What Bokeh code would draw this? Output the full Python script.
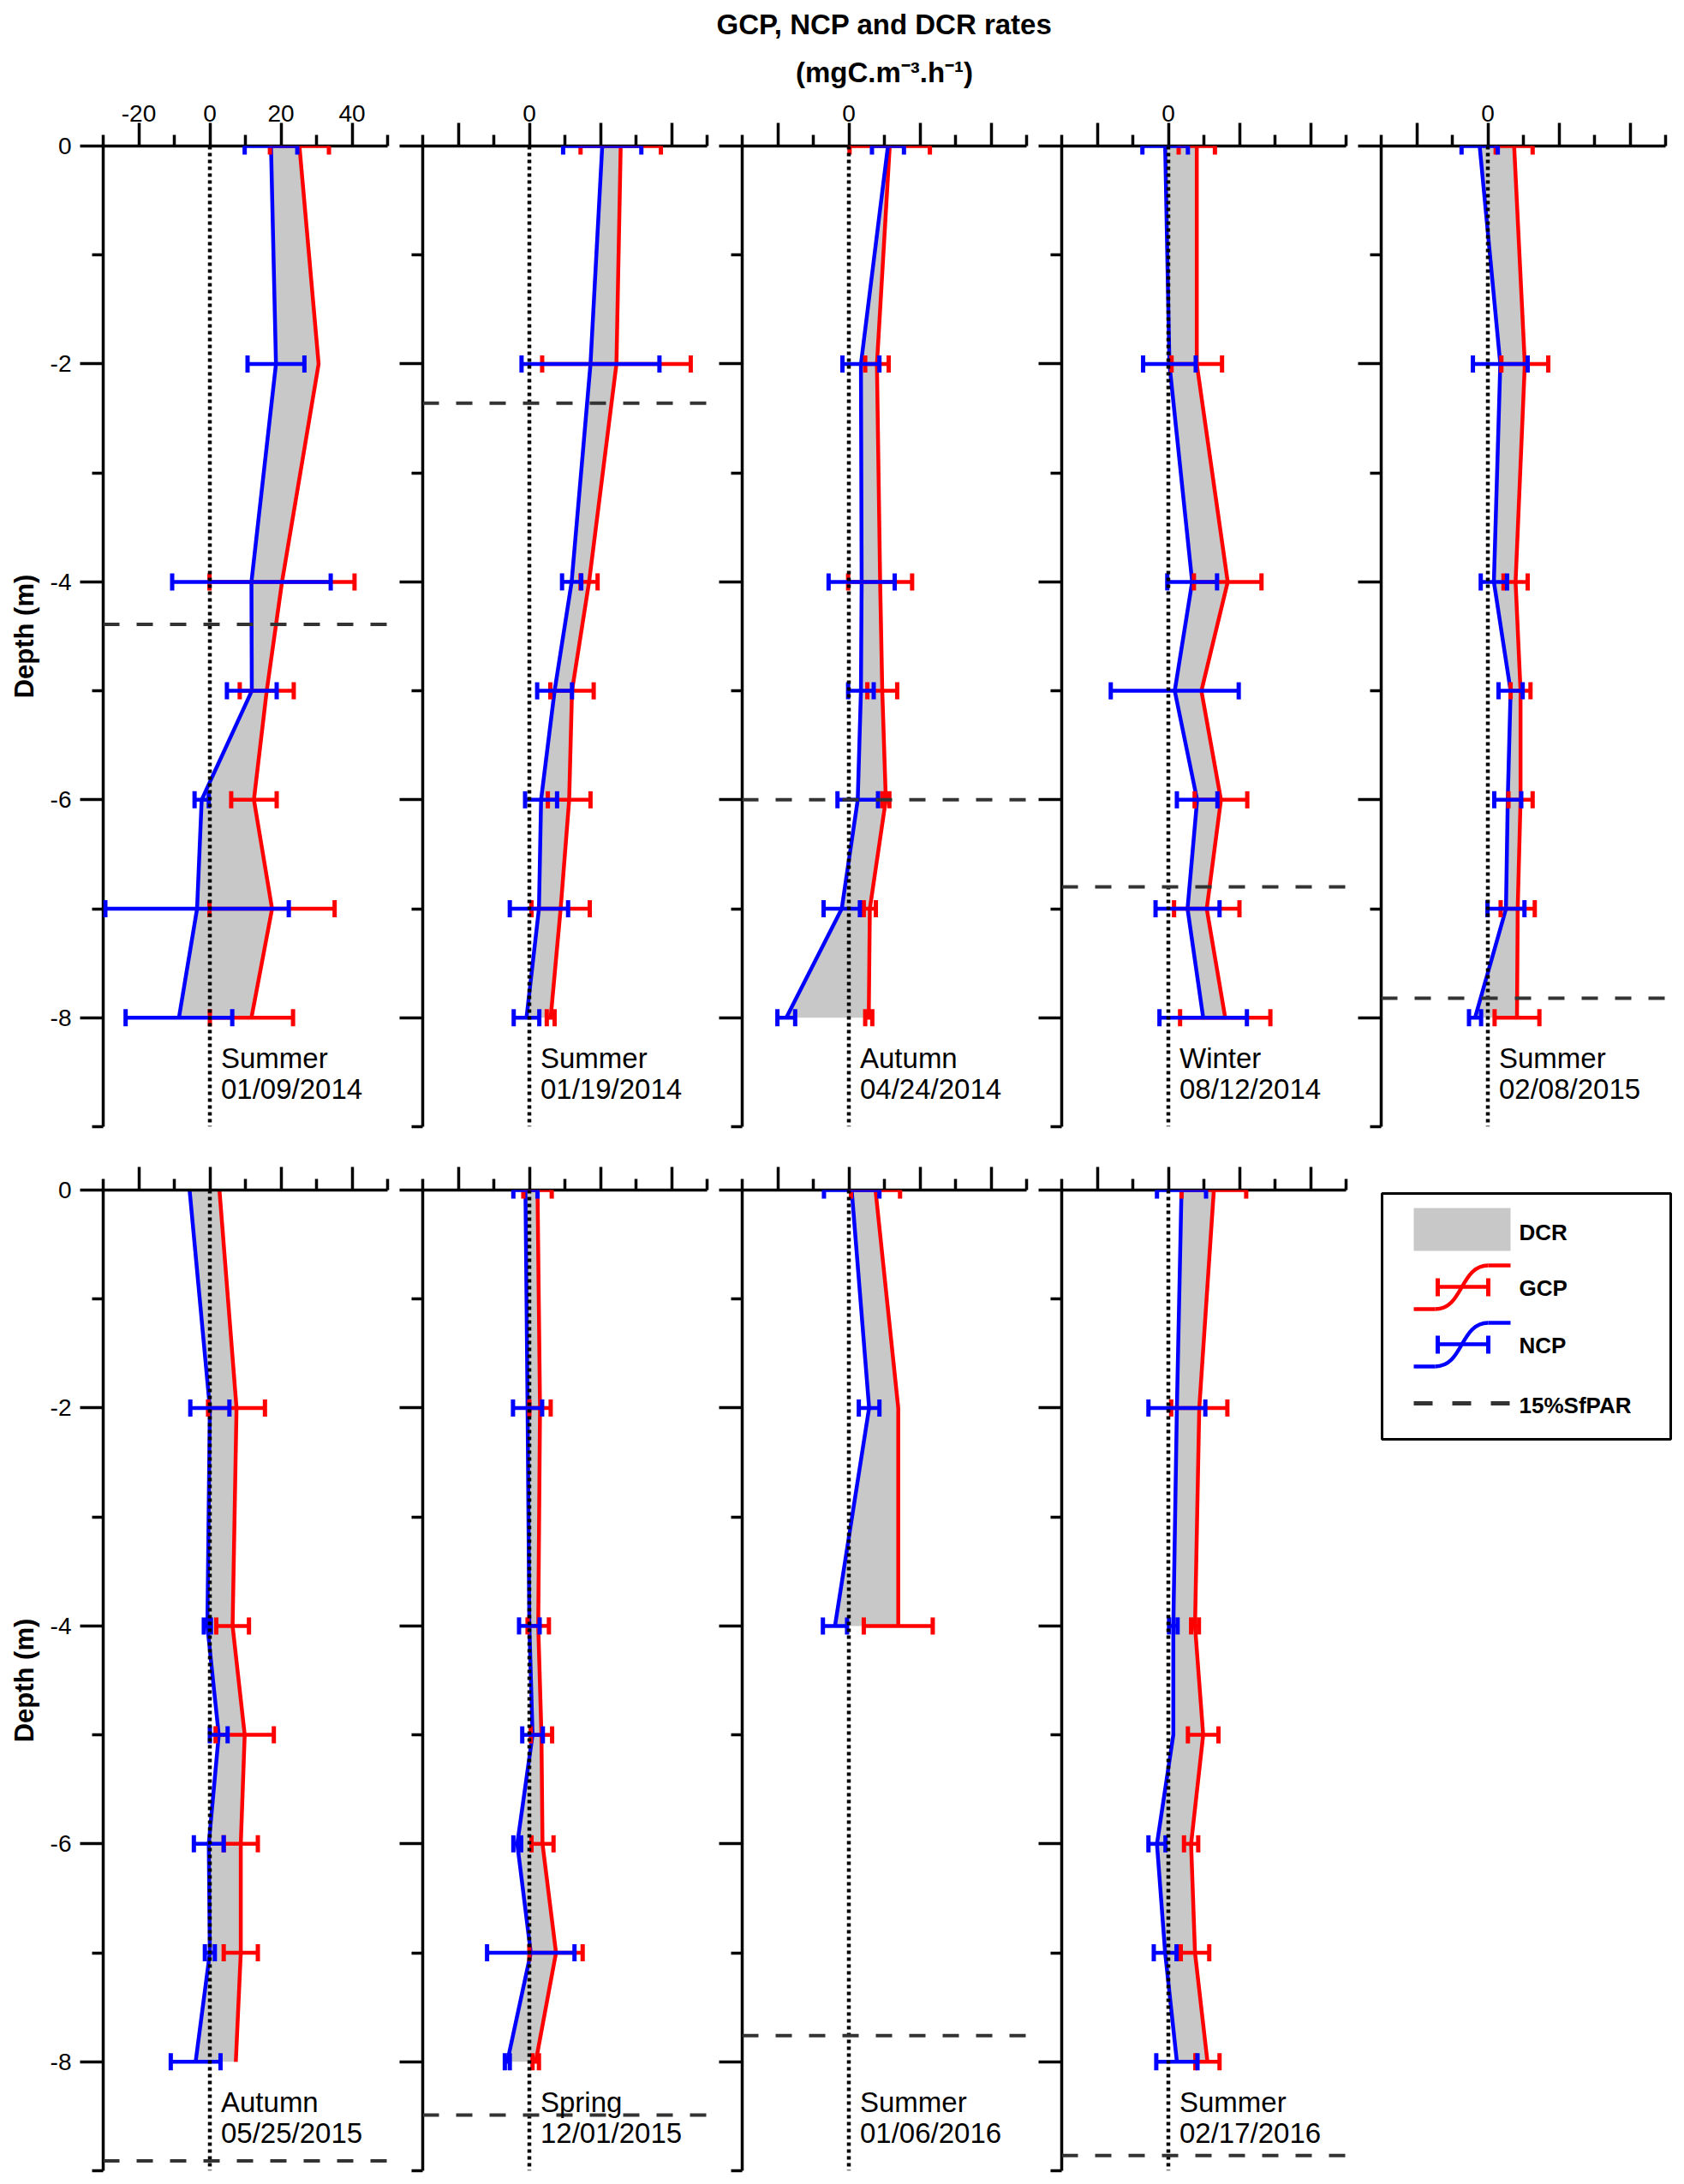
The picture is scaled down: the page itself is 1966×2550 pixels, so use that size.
from bokeh.plotting import figure
from bokeh.layouts import row, column
from bokeh.models import (ColumnDataSource, Range1d, FixedTicker, Whisker, TeeHead, Span, Label,
                          CustomLabelingPolicy)
from bokeh.embed import file_html
from bokeh.resources import INLINE
from bokeh.core.properties import value

# ---------------- data ----------------
SEASONS = ["Summer", "Summer", "Autumn", "Winter", "Summer",
           "Autumn", "Spring", "Summer", "Summer"]
DATES = ["01/09/2014", "01/19/2014", "04/24/2014", "08/12/2014", "02/08/2015",
         "05/25/2015", "12/01/2015", "01/06/2016", "02/17/2016"]

DEPTHS = [
    [0, -2, -4, -5, -6, -7, -8],
    [0, -2, -4, -5, -6, -7, -8],
    [0, -2, -4, -5, -6, -7, -8],
    [0, -2, -4, -5, -6, -7, -8],
    [0, -2, -4, -5, -6, -7, -8],
    [0, -2, -4, -5, -6, -7, -8],
    [0, -2, -4, -5, -6, -7, -8],
    [0, -2, -4],
    [0, -2, -4, -5, -6, -7, -8],
]
GCP = [
    [25.2, 30.6, 20.3, 16.0, 12.4, 17.5, 11.7],
    [25.7, 24.5, 16.8, 12.0, 11.2, 8.8, 6.0],
    [11.5, 7.9, 8.8, 9.4, 10.4, 5.9, 5.6],
    [8.0, 8.0, 16.7, 9.3, 14.8, 10.8, 16.0],
    [7.4, 10.4, 7.8, 9.2, 9.2, 8.4, 8.2],
    [2.7, 7.5, 6.4, 9.8, 8.7, 8.7, 7.3],
    [2.3, 3.0, 2.5, 3.4, 3.7, 7.5, 1.8],
    [7.5, 13.9, 13.9],
    [12.8, 8.7, 7.5, 9.8, 6.4, 7.5, 11.0],
]
GCP_ERR = [
    [8.3, 0.0, 20.4, 7.6, 6.4, 17.6, 11.7],
    [11.3, 20.9, 2.4, 6.1, 6.0, 8.2, 1.1],
    [11.3, 3.3, 9.0, 4.2, 1.0, 1.7, 1.0],
    [5.1, 7.1, 9.5, 0.0, 7.4, 9.2, 12.7],
    [5.2, 6.6, 3.4, 2.8, 3.4, 4.8, 6.3],
    [0.0, 8.0, 4.6, 8.2, 4.8, 4.8, 0.0],
    [4.0, 3.0, 3.0, 3.0, 3.1, 7.5, 0.9],
    [6.9, 0.0, 9.7],
    [9.1, 7.9, 1.1, 4.3, 2.0, 4.0, 3.4],
]
NCP = [
    [17.2, 18.6, 11.7, 11.8, -2.3, -3.6, -8.7],
    [20.5, 17.2, 11.9, 7.1, 3.3, 2.7, -0.8],
    [11.0, 3.4, 3.6, 3.4, 2.5, -2.0, -17.6],
    [-0.9, 0.3, 6.7, 1.8, 8.1, 5.4, 9.8],
    [-2.3, 3.5, 1.7, 6.4, 5.6, 5.1, -3.6],
    [-5.7, 0.0, -0.7, 2.5, -0.3, 0.0, -4.0],
    [-1.1, -0.5, 0.0, 0.9, -3.4, 0.4, -6.2],
    [0.8, 5.7, -3.9],
    [3.7, 2.4, 1.4, 1.4, -3.2, -0.9, 2.4],
]
NCP_ERR = [
    [7.4, 8.0, 22.3, 7.0, 2.0, 25.8, 15.0],
    [11.0, 19.4, 2.7, 4.9, 4.5, 8.2, 3.6],
    [4.5, 5.2, 9.3, 3.6, 5.7, 5.1, 2.5],
    [6.4, 7.4, 7.0, 18.0, 5.7, 9.0, 12.3],
    [5.1, 7.7, 3.7, 3.4, 3.8, 5.2, 1.7],
    [0.0, 5.5, 1.0, 2.5, 4.2, 1.4, 7.0],
    [3.4, 4.1, 2.9, 2.9, 1.1, 12.3, 0.7],
    [7.8, 2.9, 3.4],
    [6.9, 8.0, 1.2, 0.0, 2.4, 3.2, 5.8],
]
SFPAR_DEPTH = [-4.39, -2.36, -6.0, -6.8, -7.82, -8.91, -8.49, -7.76, -8.86]

X_MAJOR = [-20, 0, 20, 40]
X_MINOR = [-30, -10, 10, 30, 50]
Y_MAJOR = [0, -2, -4, -6, -8]
Y_MINOR = [-1, -3, -5, -7, -9]
X_RANGE = (-30, 50)
Y_RANGE = (-9, 0)

TITLE_1 = "GCP, NCP and DCR rates"
TITLE_2 = "(mgC.m\u207b\u00b3.h\u207b\u00b9)"
Y_LABEL = "Depth (m)"
LEGEND_LABELS = ["DCR", "GCP", "NCP", "15%SfPAR"]

# ---------------- style / layout ----------------
RED = "#FF0000"
BLUE = "#0000FF"
GRAY = "#C8C8C8"
DASH_COLOR = "#333333"
FONT = "Liberation Sans"
FRAME_W = 332
FRAME_H = 1145
LW = 4.5
TITLE_H = 103
TOP1, BOT1 = 67, 4
TOP2, BOT2 = 70, 6
TOTAL_W = 1959

HIDE_ALL = CustomLabelingPolicy(
    code="for (const i of indices) { indices.unset(i) }\nreturn indices")
ONLY_ZERO = CustomLabelingPolicy(
    code="for (const i of indices) { if (i != 1) indices.unset(i) }\nreturn indices")


def style_axis(ax):
    ax.axis_line_width = 3.5
    ax.major_tick_line_width = 3.5
    ax.minor_tick_line_width = 3.5
    ax.major_tick_out = 27
    ax.major_tick_in = 0
    ax.minor_tick_out = 13
    ax.minor_tick_in = 0
    ax.major_label_text_font = FONT
    ax.major_label_text_font_size = "28px"
    ax.major_label_text_color = "black"


def hide_labels(ax):
    ax.major_label_policy = HIDE_ALL
    ax.major_label_text_font_size = "1px"
    ax.major_label_standoff = 0


def make_panel(i, col, top_row):
    left = 120 if col == 0 else 37
    top, bottom = (TOP1, BOT1) if top_row else (TOP2, BOT2)
    p = figure(width=left + FRAME_W + 4, height=top + FRAME_H + bottom,
               x_range=Range1d(*X_RANGE), y_range=Range1d(*Y_RANGE),
               x_axis_location="above", y_axis_location="left",
               min_border_left=left, min_border_right=4,
               min_border_top=top, min_border_bottom=bottom,
               output_backend="svg", toolbar_location=None)
    p.title.visible = False
    p.outline_line_color = None
    p.xgrid.visible = False
    p.ygrid.visible = False
    p.background_fill_color = "white"

    xa = p.xaxis[0]
    style_axis(xa)
    xa.ticker = FixedTicker(ticks=X_MAJOR, minor_ticks=X_MINOR)
    xa.major_label_standoff = 2
    xa.major_label_overrides = {t: str(t) for t in X_MAJOR}
    if top_row:
        if col != 0:
            xa.major_label_policy = ONLY_ZERO
    else:
        hide_labels(xa)

    ya = p.yaxis[0]
    style_axis(ya)
    ya.ticker = FixedTicker(ticks=Y_MAJOR, minor_ticks=Y_MINOR)
    ya.major_label_standoff = 10
    ya.major_label_overrides = {t: str(t) for t in Y_MAJOR}
    if col == 0:
        ya.axis_label = Y_LABEL
        ya.axis_label_text_font = FONT
        ya.axis_label_text_font_style = "bold"
        ya.axis_label_text_font_size = "31px"
        ya.axis_label_text_color = "black"
        ya.axis_label_standoff = 10
    else:
        hide_labels(ya)

    d = DEPTHS[i]
    src = ColumnDataSource(dict(depth=d, gcp=GCP[i], ncp=NCP[i]))
    p.harea(y="depth", x1="ncp", x2="gcp", source=src, fill_color=GRAY, fill_alpha=1.0)
    p.line(x="gcp", y="depth", source=src, line_color=RED, line_width=LW)
    p.line(x="ncp", y="depth", source=src, line_color=BLUE, line_width=LW)

    for vals, errs, color in ((GCP[i], GCP_ERR[i], RED), (NCP[i], NCP_ERR[i], BLUE)):
        ys = [y for y, e in zip(d, errs) if e > 0]
        lo = [v - e for v, e in zip(vals, errs) if e > 0]
        hi = [v + e for v, e in zip(vals, errs) if e > 0]
        wsrc = ColumnDataSource(dict(y=ys, lo=lo, hi=hi))
        w = Whisker(base="y", lower="lo", upper="hi", dimension="width", source=wsrc,
                    line_color=color, line_width=LW, level="annotation",
                    upper_head=TeeHead(size=20, line_color=color, line_width=5),
                    lower_head=TeeHead(size=20, line_color=color, line_width=5))
        p.add_layout(w)

    p.add_layout(Span(location=0, dimension="height", line_color="black",
                      line_width=4.5, line_dash="4 4"))
    p.add_layout(Span(location=SFPAR_DEPTH[i], dimension="width", line_color=DASH_COLOR,
                      line_width=4, line_dash="19 20"))

    p.add_layout(Label(x=0, y=-8.37, x_offset=13, text=SEASONS[i], text_font=FONT,
                       text_font_size="33px", text_baseline="middle", text_color="black"))
    p.add_layout(Label(x=0, y=-8.655, x_offset=13, text=DATES[i], text_font=FONT,
                       text_font_size="33px", text_baseline="middle", text_color="black"))
    return p


row1 = [make_panel(i, i, True) for i in range(5)]
row2 = [make_panel(5 + j, j, False) for j in range(4)]

# ---------------- title strip ----------------
title_fig = figure(width=TOTAL_W, height=TITLE_H,
                   x_range=Range1d(0, TOTAL_W), y_range=Range1d(TITLE_H, 0),
                   x_axis_type=None, y_axis_type=None,
                   min_border_left=0, min_border_right=0, min_border_top=0, min_border_bottom=0,
                   output_backend="svg", toolbar_location=None)
title_fig.title.visible = False
title_fig.outline_line_color = None
title_fig.grid.visible = False
title_fig.add_layout(Label(x=1032, y=28, text=TITLE_1, text_align="center", text_baseline="middle",
                           text_font=FONT, text_font_style="bold", text_font_size="33px",
                           text_color="black"))
title_fig.add_layout(Label(x=1032, y=84, text=TITLE_2, text_align="center", text_baseline="middle",
                           text_font=FONT, text_font_style="bold", text_font_size="33px",
                           text_color="black"))

# ---------------- legend panel ----------------
LEG_W = 384
leg = figure(width=LEG_W, height=TOP2 + FRAME_H + BOT2,
             x_range=Range1d(0, LEG_W), y_range=Range1d(FRAME_H, 0),
             x_axis_type=None, y_axis_type=None,
             min_border_left=0, min_border_right=0, min_border_top=TOP2, min_border_bottom=BOT2,
             output_backend="svg", toolbar_location=None)
leg.title.visible = False
leg.outline_line_color = None
leg.grid.visible = False

leg.quad(left=[38], right=[375], top=[4], bottom=[291], fill_color=None,
         line_color="black", line_width=3)
leg.quad(left=[75], right=[188], top=[21], bottom=[71], fill_color=GRAY, line_color=None)
for dy, color in ((0, RED), (67, BLUE)):
    leg.line([75, 100], [139 + dy, 139 + dy], line_color=color, line_width=LW)
    leg.bezier(x0=[100], y0=[139 + dy], x1=[162], y1=[88 + dy], cx0=[133], cy0=[139 + dy],
               cx1=[129], cy1=[88 + dy], line_color=color, line_width=LW)
    leg.line([162, 188], [88 + dy, 88 + dy], line_color=color, line_width=LW)
    leg.segment(x0=[103], y0=[113 + dy], x1=[162], y1=[113 + dy], line_color=color, line_width=LW)
    leg.segment(x0=[103, 162], y0=[103 + dy, 103 + dy], x1=[103, 162], y1=[124 + dy, 124 + dy],
                line_color=color, line_width=5)
leg.line([75, 188], [249, 249], line_color=DASH_COLOR, line_width=5, line_dash="22 23")
leg.text(x=[198, 198, 198, 198], y=[49, 114, 181, 251], text=LEGEND_LABELS,
         text_font=value(FONT), text_font_style="bold", text_font_size=value("26px"),
         text_baseline="middle", text_color="black")

layout = column(title_fig, row(*row1), row(*row2, leg))

open("out.html", "w").write(file_html(layout, INLINE))
